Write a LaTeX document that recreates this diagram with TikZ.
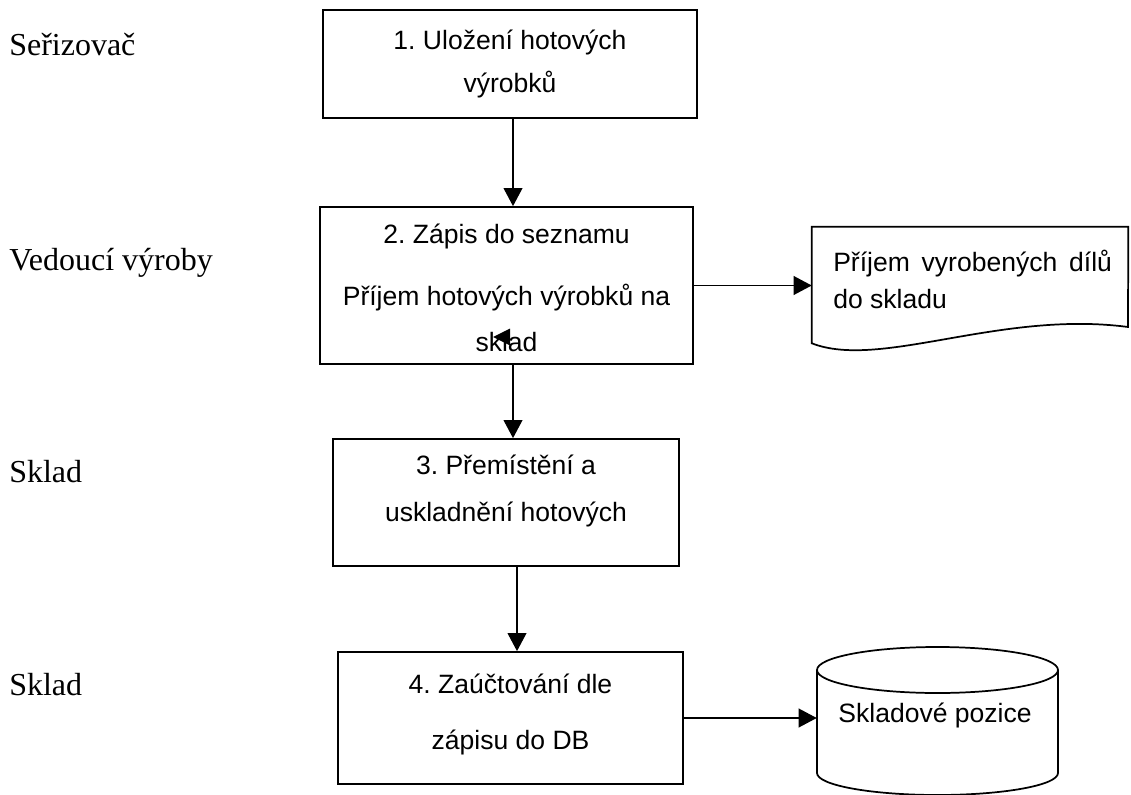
\documentclass[tikz,border=0pt]{standalone}
\usepackage{fontspec}
\setmainfont{Liberation Serif}
\newfontfamily\arialfont{Liberation Sans}
\usetikzlibrary{arrows.meta}
\frenchspacing
\tikzset{box/.style={draw,line width=1.3pt,inner sep=0pt},
 frame/.style={inner sep=0pt},
 txt/.style={font=\arialfont\fontsize{19.9pt}{24pt}\selectfont,anchor=base,inner sep=0pt},
 role/.style={font=\fontsize{24pt}{28pt}\selectfont,anchor=base west,inner sep=0pt},
 line/.style={line width=1.3pt},
 arr/.style={-{Triangle[length=13.5pt,width=14pt]},line width=1.3pt}}

\begin{document}
\begin{tikzpicture}[x=0.75pt,y=-0.75pt]
\useasboundingbox (0,0) rectangle (1131,795);
% roles
\node[role] (r1) at (9,56) {Seřizovač};
\node[role] (r2) at (9,270) {Vedoucí výroby};
\node[role] (r3) at (9,482) {Sklad};
\node[role] (r4) at (9,695) {Sklad};
% steps
\node[box,minimum width=280.5pt,minimum height=81pt] (b1) at (510,64) {};
\node[box,minimum width=279.75pt,minimum height=117.75pt] (b2) at (506.5,285.5) {};
\node[box,minimum width=259.5pt,minimum height=95.25pt] (b3) at (506,502.5) {};
\node[box,minimum width=258.75pt,minimum height=99pt] (b4) at (510.5,718) {};
\node[txt] (t1a) at (510,50) {1. Uložení hotových};
\node[txt] (t1b) at (510,93) {výrobků};
\node[txt] (t2a) at (506.5,243) {2. Zápis do seznamu};
\node[txt] (t2b) at (506.5,305) {Příjem hotových výrobků na};
\node[txt] (t2c) at (506.5,351) {sklad};
\node[txt] (t3a) at (506,474) {3. Přemístění a};
\node[txt] (t3b) at (506,521) {uskladnění hotových};
\node[txt] (t4a) at (510.5,693) {4. Zaúčtování dle};
\node[txt] (t4b) at (510.5,749) {zápisu do DB};
% document
\node[frame,minimum width=237pt,minimum height=87pt] (doc) at (970,285) {};
\draw[line] (doc.north west) -- (doc.north east) -- (1128,327)
  .. controls (1000,310) and (880,370) .. (doc.south west) -- cycle;
\node[txt,anchor=base west] (t5a) at (833,271) {Příjem\, vyrobených\, dílů};
\node[txt,anchor=base west] (t5b) at (833,308) {do skladu};
% database
\node[frame,minimum width=180.75pt,minimum height=111pt] (db) at (937.5,718) {};
\draw[line] (937.5,670) ellipse[x radius=90.375pt,y radius=17.25pt];
\draw[line] (817,670) -- (817,773) arc[start angle=180,end angle=360,x radius=90.375pt,y radius=16.5pt] -- (1058,670);
\node[txt] (t6) at (935,722) {Skladové pozice};
% flow
\coordinate (axis) at (513,0);
\coordinate (axisb) at (517,0);
\draw[arr] (b1.south -| axis) -- (b2.north -| axis);
\draw[arr] (b2.south -| axis) -- (b3.north -| axis);
\draw[arr] (b3.south -| axisb) -- (b4.north -| axisb);
\draw[arr] (b2.east) -- (b2.east -| doc.west);
\draw[arr] (b4.east) -- (b4.east -| db.west);
\fill (493,337) -- (510,328.5) -- (510,345.5) -- cycle;
\end{tikzpicture}
\end{document}
